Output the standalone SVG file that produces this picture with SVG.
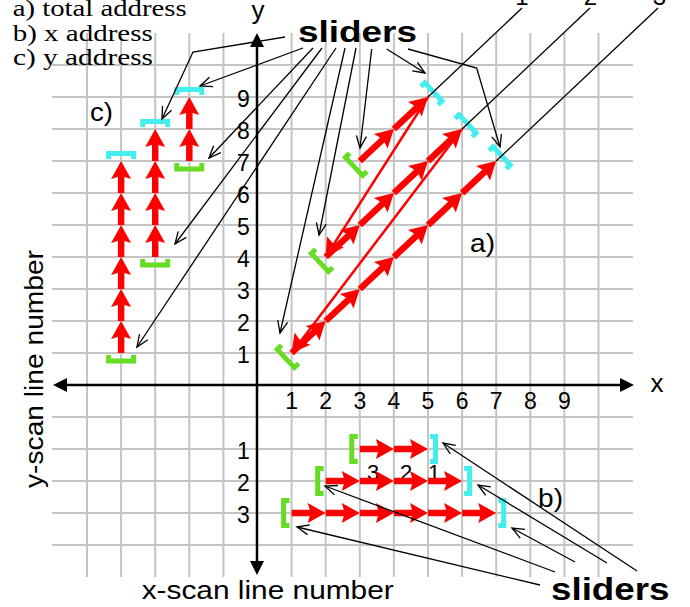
<svg xmlns="http://www.w3.org/2000/svg" width="690" height="607" viewBox="0 0 690 607">
<style>
.grid line{stroke:#c4c4c4;stroke-width:2}
.ax{stroke:#000;stroke-width:2.5}
.thin{stroke:#f00;stroke-width:2.5}
.ld{stroke:#000;stroke-width:1.3;fill:none;marker-end:url(#oa)}
.ld0{stroke:#000;stroke-width:1.3;fill:none}
.t{font-family:"Liberation Sans",Arial,Helvetica,sans-serif;fill:#000}
.s{font-family:"Liberation Serif","Times New Roman",serif;fill:#000}
</style>
<defs>
<path id="ah" d="M0,0 L-18,-10 L-15,0 L-18,10 Z" fill="#f00"/>
<g id="segD"><line x1="0" y1="0" x2="32.76" y2="0" stroke="#f00" stroke-width="6.5"/><use href="#ah" x="46.76"/></g>
<g id="segH"><line x1="0" y1="0" x2="20.1" y2="0" stroke="#f00" stroke-width="6.5"/><use href="#ah" x="34.1"/></g>
<g id="segV"><line x1="0" y1="0" x2="18" y2="0" stroke="#f00" stroke-width="6.5"/><use href="#ah" x="32"/></g>
<path id="gbr" d="M-2,-12.5 H-8 V12.5 H-2" fill="none" stroke="#66dd22" stroke-width="5"/>
<path id="cbr" d="M2,-12.5 H7.5 V12.5 H2" fill="none" stroke="#44eeee" stroke-width="5"/>
<marker id="oa" markerUnits="userSpaceOnUse" viewBox="-14 -7 16 14" markerWidth="16" markerHeight="14" refX="0" refY="0" orient="auto" overflow="visible"><path d="M-12,-5 L0,0 L-12,5" fill="none" stroke="#000" stroke-width="1.3"/></marker>
</defs>
<rect width="690" height="607" fill="#fff"/>

<g id="grid" class="grid">
<line x1="87" y1="33" x2="87" y2="577"/><line x1="121.1" y1="33" x2="121.1" y2="577"/><line x1="155.2" y1="33" x2="155.2" y2="577"/><line x1="189.3" y1="33" x2="189.3" y2="577"/><line x1="223.4" y1="33" x2="223.4" y2="577"/><line x1="291.6" y1="33" x2="291.6" y2="577"/><line x1="325.7" y1="33" x2="325.7" y2="577"/><line x1="359.8" y1="33" x2="359.8" y2="577"/><line x1="393.9" y1="33" x2="393.9" y2="577"/><line x1="428" y1="33" x2="428" y2="577"/><line x1="462.1" y1="33" x2="462.1" y2="577"/><line x1="496.2" y1="33" x2="496.2" y2="577"/><line x1="530.3" y1="33" x2="530.3" y2="577"/><line x1="564.4" y1="33" x2="564.4" y2="577"/><line x1="598.5" y1="33" x2="598.5" y2="577"/>
<line x1="52" y1="65" x2="633" y2="65"/><line x1="52" y1="97" x2="633" y2="97"/><line x1="52" y1="129" x2="633" y2="129"/><line x1="52" y1="161" x2="633" y2="161"/><line x1="52" y1="193" x2="633" y2="193"/><line x1="52" y1="225" x2="633" y2="225"/><line x1="52" y1="257" x2="633" y2="257"/><line x1="52" y1="289" x2="633" y2="289"/><line x1="52" y1="321" x2="633" y2="321"/><line x1="52" y1="353" x2="633" y2="353"/><line x1="52" y1="417" x2="633" y2="417"/><line x1="52" y1="449" x2="633" y2="449"/><line x1="52" y1="481" x2="633" y2="481"/><line x1="52" y1="513" x2="633" y2="513"/><line x1="52" y1="545" x2="633" y2="545"/>
</g>

<g id="axes">
<line class="ax" x1="257" y1="46" x2="257" y2="562"/>
<polygon points="257,33 250,47 264,47" fill="#000"/>
<polygon points="257,575 250,561 264,561" fill="#000"/>
<line class="ax" x1="66" y1="385" x2="621" y2="385"/>
<polygon points="53,385 67,378 67,392" fill="#000"/>
<polygon points="634,385 620,378 620,392" fill="#000"/>
</g>

<g id="labels" class="t">
<text class="s" x="12.7" y="16" font-size="24" textLength="174" lengthAdjust="spacingAndGlyphs">a) total address</text>
<text class="s" x="12.7" y="40.5" font-size="24" textLength="140" lengthAdjust="spacingAndGlyphs">b) x address</text>
<text class="s" x="13" y="65" font-size="24" textLength="140" lengthAdjust="spacingAndGlyphs">c) y address</text>
<text x="258" y="19" font-size="26" text-anchor="middle">y</text>
<text x="657" y="392" font-size="26" text-anchor="middle">x</text>
<g font-size="23" text-anchor="middle">
<text x="243.5" y="106.5">9</text><text x="243.5" y="138.5">8</text><text x="243.5" y="170.5">7</text><text x="243.5" y="202.5">6</text><text x="243.5" y="234.5">5</text><text x="243.5" y="266.5">4</text><text x="243.5" y="298.5">3</text><text x="243.5" y="330.5">2</text><text x="243.5" y="362.5">1</text>
<text x="243.5" y="458.5">1</text><text x="243.5" y="490.5">2</text><text x="243.5" y="522.5">3</text>
<text x="291.6" y="409">1</text><text x="325.7" y="409">2</text><text x="359.8" y="409">3</text><text x="393.9" y="409">4</text><text x="428" y="409">5</text><text x="462.1" y="409">6</text><text x="496.2" y="409">7</text><text x="530.3" y="409">8</text><text x="564.4" y="409">9</text>
</g>
<g font-size="24" text-anchor="middle">
<text x="522" y="5">1</text><text x="590.5" y="5">2</text><text x="659.5" y="5">3</text>
</g>
<g font-size="22" text-anchor="middle">
<text x="373" y="480">3</text><text x="406" y="480">2</text><text x="434" y="480">1</text>
</g>
<text x="90" y="121" font-size="25" textLength="23" lengthAdjust="spacingAndGlyphs">c)</text>
<text x="470" y="252" font-size="25" textLength="25" lengthAdjust="spacingAndGlyphs">a)</text>
<text x="538" y="507" font-size="25" textLength="25" lengthAdjust="spacingAndGlyphs">b)</text>
<text x="298" y="42" font-size="30" font-weight="bold" textLength="119" lengthAdjust="spacingAndGlyphs">sliders</text>
<text x="551" y="600" font-size="32" font-weight="bold" textLength="118.5" lengthAdjust="spacingAndGlyphs">sliders</text>
<text transform="translate(43,488) rotate(-90)" x="0" y="0" font-size="25" textLength="238" lengthAdjust="spacingAndGlyphs">y-scan line number</text>
<text x="141.7" y="599" font-size="25" textLength="252" lengthAdjust="spacingAndGlyphs">x-scan line number</text>
</g>

<g id="returns">
<line class="thin" x1="428" y1="97" x2="333.2" y2="245.2"/>
<use href="#ah" transform="translate(325.7,257) rotate(122.6)"/>
<line class="thin" x1="462.1" y1="129" x2="300.1" y2="341.9"/>
<use href="#ah" transform="translate(291.6,353) rotate(127.28)"/>
</g>

<g id="a-line3" transform="translate(291.6,353) rotate(-43.18)">
<use href="#segD" x="0"/><use href="#segD" x="46.76"/><use href="#segD" x="93.52"/><use href="#segD" x="140.28"/><use href="#segD" x="187.04"/><use href="#segD" x="233.8"/>
<use href="#gbr" x="0"/><use href="#cbr" x="280.56"/>
</g>
<g id="a-line2" transform="translate(325.7,257) rotate(-43.18)">
<use href="#segD" x="0"/><use href="#segD" x="46.76"/><use href="#segD" x="93.52"/><use href="#segD" x="140.28"/>
<use href="#gbr" x="0"/><use href="#cbr" x="187.04"/>
</g>
<g id="a-line1" transform="translate(359.8,161) rotate(-43.18)">
<use href="#segD" x="0"/><use href="#segD" x="46.76"/>
<use href="#gbr" x="0"/><use href="#cbr" x="93.52"/>
</g>

<g id="c-col1" transform="translate(121.1,353) rotate(-90)">
<use href="#segV" x="0"/><use href="#segV" x="32"/><use href="#segV" x="64"/><use href="#segV" x="96"/><use href="#segV" x="128"/><use href="#segV" x="160"/>
<use href="#gbr" x="0"/><use href="#cbr" x="192"/>
</g>
<g id="c-col2" transform="translate(155.2,257) rotate(-90)">
<use href="#segV" x="0"/><use href="#segV" x="32"/><use href="#segV" x="64"/><use href="#segV" x="96"/>
<use href="#gbr" x="0"/><use href="#cbr" x="128"/>
</g>
<g id="c-col3" transform="translate(189.3,161) rotate(-90)">
<use href="#segV" x="0"/><use href="#segV" x="32"/>
<use href="#gbr" x="0"/><use href="#cbr" x="64"/>
</g>

<g id="b-row1" transform="translate(359.8,449)">
<use href="#segH" x="0"/><use href="#segH" x="34.1"/>
<use href="#gbr" x="0"/><use href="#cbr" x="68.2"/>
</g>
<g id="b-row2" transform="translate(325.7,481)">
<use href="#segH" x="0"/><use href="#segH" x="34.1"/><use href="#segH" x="68.2"/><use href="#segH" x="102.3"/>
<use href="#gbr" x="0"/><use href="#cbr" x="136.4"/>
</g>
<g id="b-row3" transform="translate(291.6,513)">
<use href="#segH" x="0"/><use href="#segH" x="34.1"/><use href="#segH" x="68.2"/><use href="#segH" x="102.3"/><use href="#segH" x="136.4"/><use href="#segH" x="170.5"/>
<use href="#gbr" x="0"/><use href="#cbr" x="204.6"/>
</g>

<g id="connectors">
<polyline class="ld" points="285,37 193,52 162,119"/>
<line class="ld" x1="303" y1="48" x2="200" y2="86"/>
<line class="ld" x1="313" y1="48" x2="209" y2="158"/>
<line class="ld" x1="322" y1="48" x2="175" y2="244"/>
<line class="ld" x1="336" y1="48" x2="137" y2="347"/>
<line class="ld" x1="345" y1="48" x2="280" y2="333"/>
<line class="ld" x1="356" y1="48" x2="319" y2="235"/>
<line class="ld" x1="371.7" y1="49" x2="360" y2="148"/>
<line class="ld" x1="386.7" y1="49" x2="425" y2="73"/>
<polyline class="ld" points="408,49 476.7,68 500,147"/>
<line class="ld0" x1="522" y1="8" x2="428" y2="97"/>
<line class="ld0" x1="590" y1="8" x2="462.1" y2="129"/>
<line class="ld0" x1="658" y1="8" x2="496.2" y2="161"/>
<line class="ld" x1="637" y1="571" x2="443" y2="443"/>
<line class="ld" x1="607" y1="563" x2="478" y2="485"/>
<line class="ld" x1="575" y1="562" x2="512" y2="528"/>
<line class="ld" x1="555" y1="572" x2="325" y2="486"/>
<line class="ld" x1="540" y1="585" x2="297" y2="527"/>
</g>
</svg>
